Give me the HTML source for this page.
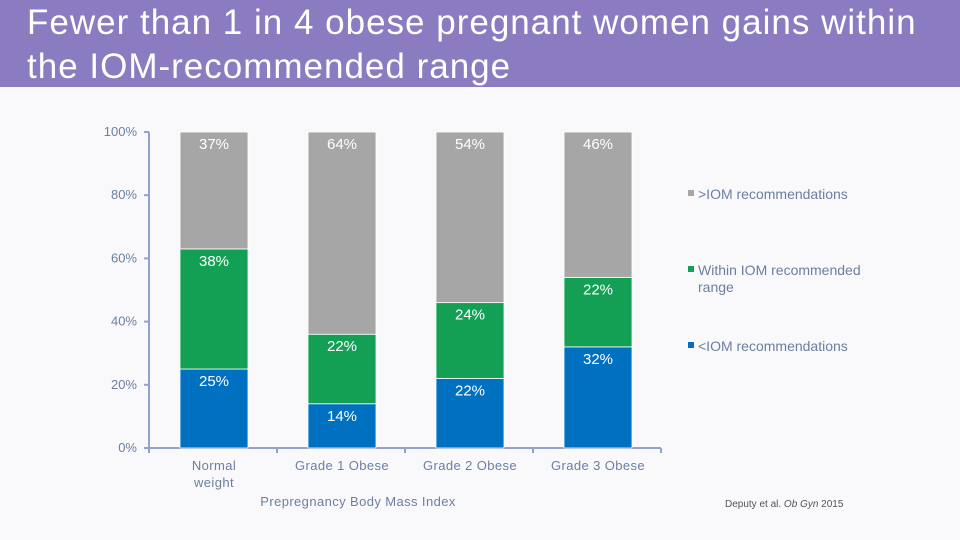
<!DOCTYPE html>
<html><head><meta charset="utf-8">
<style>
body{margin:0;width:960px;height:540px;background:#f9f9fb;font-family:"Liberation Sans",sans-serif;overflow:hidden;position:relative}
#title{position:absolute;left:0;top:0;width:960px;height:87px;background:#8b7bc0;color:#fff;font-size:35px;letter-spacing:1px;line-height:44px;padding:1px 0 0 27px;box-sizing:border-box}
svg{position:absolute;left:0;top:0}
</style></head><body>
<div id="title">Fewer than 1 in 4 obese pregnant women gains within<br>the IOM-recommended range</div>
<svg id="chart" width="960" height="540"></svg>
<script>
const categories=["Normal weight","Grade 1 Obese","Grade 2 Obese","Grade 3 Obese"];
const below=[25,14,22,32];
const within=[38,22,24,22];
const above=[37,64,54,46];
const yTicks=[0,20,40,60,80,100];
const seriesNames=[">IOM recommendations","Within IOM recommended range","<IOM recommendations"];

const NS="http://www.w3.org/2000/svg";
const svg=document.getElementById('chart');
const y0=448,y1=132,x0=149,step=128,bw=68,first=214;
const y=v=>y0-(y0-y1)*v/100;
const xc=i=>first+i*step;
const axisCol="#8fa3cc",txt="#6b7fa0";
function mk(t,a,p){const e=document.createElementNS(NS,t);for(const k in a)e.setAttribute(k,a[k]);(p||svg).appendChild(e);return e;}

let ax=mk('line',{x1:x0,y1:y1,x2:x0,y2:y0,stroke:axisCol,'stroke-width':2});


let xa=mk('line',{x1:x0-4,y1:y0,x2:x0+4*step,y2:y0,stroke:axisCol,'stroke-width':2});


yTicks.forEach(t=>{
  mk('line',{x1:x0-5,y1:y(t),x2:x0,y2:y(t),stroke:axisCol,'stroke-width':2});
  const l=mk('text',{x:137,y:y(t)+4,'text-anchor':'end','font-size':13,fill:txt});
  l.textContent=t+'%';
  
  
});
for(let i=0;i<=4;i++) mk('line',{x1:x0+i*step,y1:y0,x2:x0+i*step,y2:y0+5,stroke:axisCol,'stroke-width':2});

const series=[[below,"#0070c0","below"],[within,"#13a055","within"],[above,"#a6a6a6","above"]];
categories.forEach((c,i)=>{
  let acc=0;
  series.forEach(([arr,col,nm])=>{
    const v=arr[i];
    const top=y(acc+v),bot=y(acc);
    const r=mk('rect',{x:xc(i)-bw/2,y:top,width:bw,height:bot-top,fill:col,stroke:'#fff','stroke-width':0.8});
    
    
    const t=mk('text',{x:xc(i),y:top+17,'text-anchor':'middle','font-size':15,fill:'#fff'});
    t.textContent=v+'%';
    
    
    acc+=v;
  });
  const words=c==="Normal weight"?["Normal","weight"]:[c];
  words.forEach((w,k)=>{
    const l=mk('text',{x:xc(i),y:470+k*17,'text-anchor':'middle','font-size':13,'letter-spacing':0.4,fill:txt});
    l.textContent=w;
    
    
  });
});
const xt=mk('text',{x:358,y:506,'text-anchor':'middle','font-size':13,'letter-spacing':0.4,fill:txt});
xt.textContent="Prepregnancy Body Mass Index";



const leg=[[">IOM recommendations",null,"#a6a6a6",195],["Within IOM recommended","range","#13a055",271],["<IOM recommendations",null,"#0070c0",347]];
leg.forEach(([a,b,col,yy])=>{
  const g=mk('g',{});
  
  
  mk('rect',{x:688,y:yy-5,width:6,height:6,fill:col},g);
  const t=mk('text',{x:698,y:yy+4,'font-size':14,fill:txt},g);t.textContent=a;
  if(b){const t2=mk('text',{x:698,y:yy+21,'font-size':14,fill:txt},g);t2.textContent=b;}
});
const cit=mk('text',{x:725,y:507,'font-size':10,fill:'#555'});
cit.innerHTML='Deputy et al. <tspan font-style="italic">Ob Gyn</tspan> 2015';


</script>
</body></html>
